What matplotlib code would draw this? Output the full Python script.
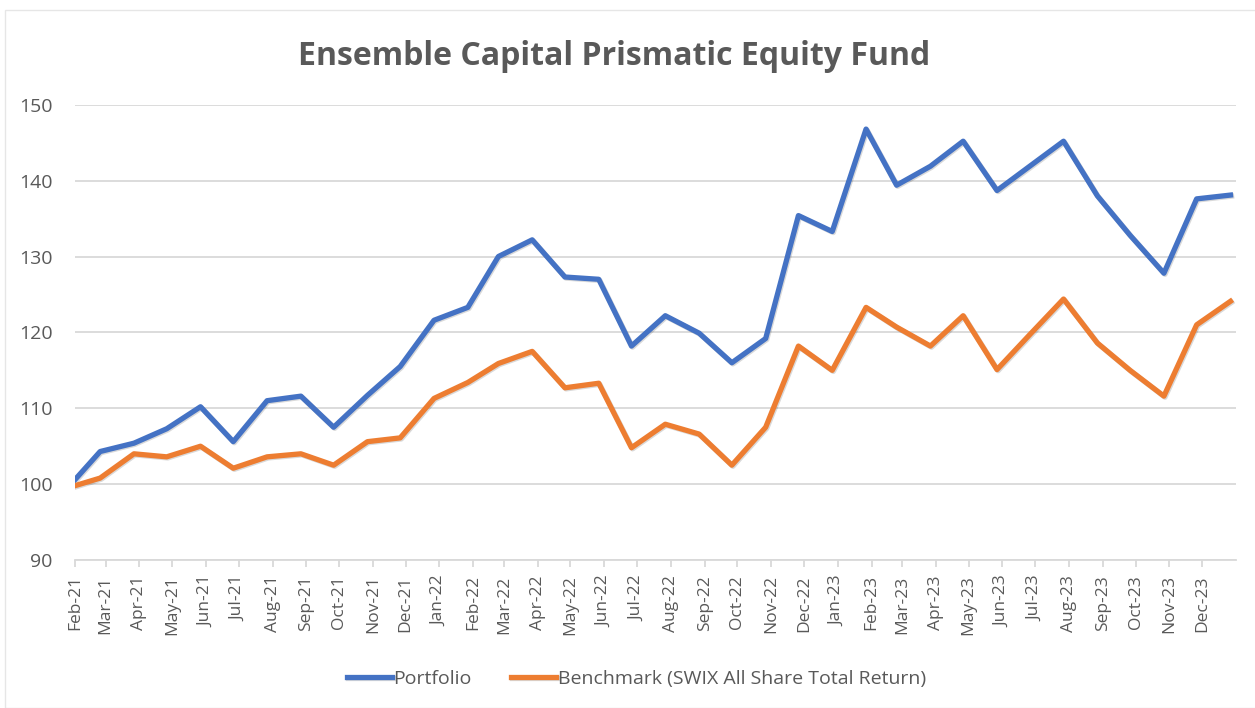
import pandas as pd
import matplotlib.pyplot as plt
import matplotlib.dates as mdates
import matplotlib.patheffects as pe
from matplotlib.patches import Rectangle

plt.rcParams["font.family"] = ["Open Sans", "DejaVu Sans"]

# first point is the start date, then one point per month end
dates = [pd.Timestamp("2021-02-01")] + list(
    pd.date_range("2021-02-28", periods=35, freq="ME") - pd.Timedelta(days=4)
)

portfolio = [
    100.6, 104.3, 105.4, 107.3, 110.2, 105.6, 111.0, 111.6, 107.5, 111.7,
    115.5, 121.6, 123.3, 130.0, 132.2, 127.3, 127.0, 118.2, 122.2, 119.9,
    116.0, 119.2, 135.4, 133.3, 146.8, 139.4, 141.9, 145.2, 138.7, 141.9,
    145.2, 138.0, 132.8, 127.8, 137.6, 138.1,
]
benchmark = [
    99.8, 100.8, 104.0, 103.6, 105.0, 102.1, 103.6, 104.0, 102.5, 105.6,
    106.1, 111.3, 113.4, 115.9, 117.5, 112.7, 113.3, 104.8, 107.9, 106.6,
    102.5, 107.5, 118.2, 115.0, 123.3, 120.7, 118.2, 122.2, 115.1, 119.7,
    124.4, 118.6, 115.0, 111.6, 121.0, 124.1,
]

grey = "#595959"

fig = plt.figure(figsize=(12.55, 7.08), dpi=100)
ax = fig.add_axes([0.0598, 0.209, 0.925, 0.643])

fig.patches.append(Rectangle((0.004, 0.0), 1.0, 0.986, transform=fig.transFigure,
                             fill=False, edgecolor="#E6E6E6", linewidth=1))

shadow = [pe.SimpleLineShadow(offset=(0.8, -0.8), alpha=0.15, shadow_color="black"), pe.Normal()]
ax.plot(dates, portfolio, color="#4472C4", linewidth=3.8, label="Portfolio",
        solid_joinstyle="round", path_effects=shadow)
ax.plot(dates, benchmark, color="#ED7D31", linewidth=3.8,
        label="Benchmark (SWIX All Share Total Return)",
        solid_joinstyle="round", path_effects=shadow)

ax.set_ylim(90, 150)
ax.set_yticks(range(90, 151, 10))
ax.set_xlim(pd.Timestamp("2021-02-01"), pd.Timestamp("2024-01-01"))
ax.xaxis.set_major_locator(mdates.MonthLocator())
ticks = ax.get_xticks()
ax.set_xticks(ticks[:-1])
ax.xaxis.set_major_formatter(mdates.DateFormatter("%b-%y"))

ax.grid(axis="y", color="#D9D9D9", linewidth=1.3)
ax.set_axisbelow(True)
for s in ["top", "right", "left"]:
    ax.spines[s].set_visible(False)
ax.spines["bottom"].set_color("#D9D9D9")
ax.spines["bottom"].set_linewidth(1.3)

ax.tick_params(axis="y", length=0, pad=16, labelsize=14, labelcolor=grey)
ax.tick_params(axis="x", length=5, width=1.3, color="#D9D9D9", pad=6,
               labelsize=12.5, labelcolor=grey, labelrotation=90)

fig.text(0.489, 0.92, "Ensemble Capital Prismatic Equity Fund", ha="center",
         va="center", fontsize=23, fontweight="bold", color=grey)

fig.legend(loc="center", bbox_to_anchor=(0.507, 1 - 679 / 708), ncol=2,
           frameon=False, fontsize=14, labelcolor=grey, handlelength=2.3,
           handletextpad=0.1, columnspacing=2.0)

fig.savefig("out.png", dpi=100, facecolor="white")
